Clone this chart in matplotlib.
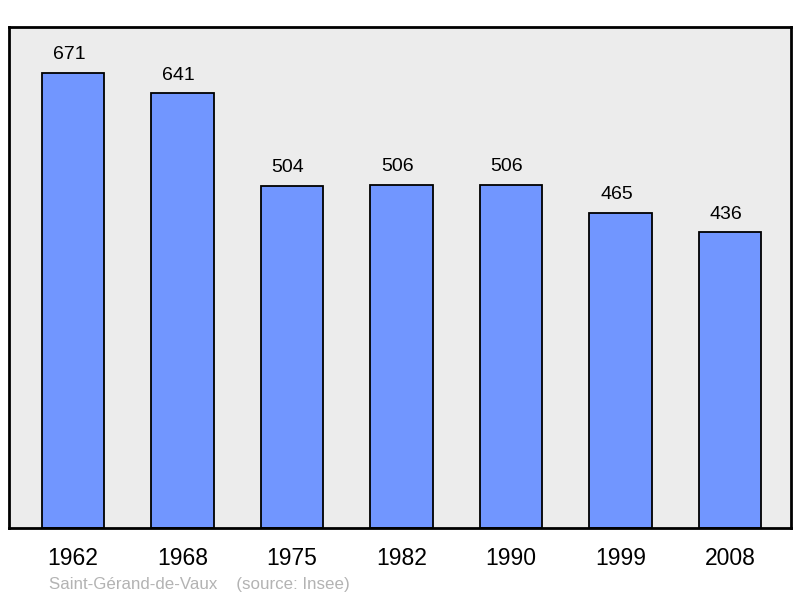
import matplotlib
matplotlib.use("Agg")
import matplotlib.pyplot as plt

years = ["1962", "1968", "1975", "1982", "1990", "1999", "2008"]
population = [671, 641, 504, 506, 506, 465, 436]

plt.rcParams['font.family'] = ['Liberation Sans', 'DejaVu Sans']

fig = plt.figure(figsize=(8, 5.98), dpi=100)
ax = fig.add_axes([9/800, 70/598, 782/800, 501/598])
ax.set_facecolor('#ececec')
x = list(range(len(years)))
ax.bar(x, population, width=0.57, color='#7196ff', edgecolor='black', linewidth=1.3, zorder=2)
for xi, v in zip(x, population):
    ax.annotate(str(v), (xi, v), xytext=(-2.9, 10), textcoords='offset points',
                ha='center', va='baseline', fontsize=14)
ax.set_xlim(-0.584, 6.557)
ax.set_ylim(0, 739)
ax.set_yticks([])
ax.set_xticks(x)
ax.set_xticklabels(years, fontsize=16.5)
ax.tick_params(axis='x', length=0, pad=14)
for s in ax.spines.values():
    s.set_linewidth(2)
    s.set_color('black')
fig.text(49/800, 1 - 584/598, "Saint-Gérand-de-Vaux    (source: Insee)", fontsize=12.2,
         color='#b3b3b3', ha='left', va='center')
fig.savefig("out.png", dpi=100)
